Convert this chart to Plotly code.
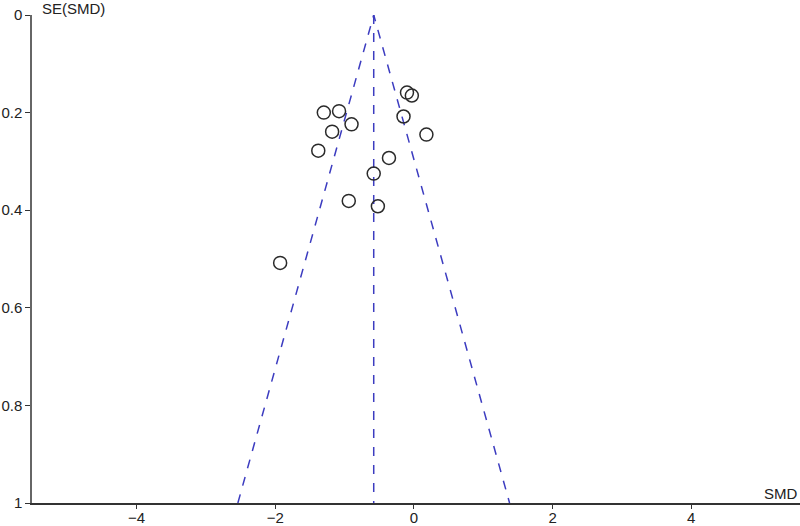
import plotly.graph_objects as go

smd = [-1.30, -1.08, -0.90, -1.18, -1.38, -0.10, -0.03, -0.15, 0.18, -0.36, -0.58, -0.94, -0.52, -1.93]
se = [0.200, 0.197, 0.224, 0.239, 0.278, 0.159, 0.165, 0.208, 0.245, 0.293, 0.325, 0.381, 0.392, 0.508]
pooled = -0.58
z = 1.96
se_max = 1.0

x_ticks = [-4, -2, 0, 2, 4]
y_ticks = [0, 0.2, 0.4, 0.6, 0.8, 1]
y_tick_text = ["0", "0.2", "0.4", "0.6", "0.8", "1"]

fig = go.Figure()
line_color = "#3c3cc0"
fig.add_trace(go.Scatter(
    x=[pooled - z * se_max, pooled, pooled + z * se_max], y=[se_max, 0, se_max],
    mode="lines", line=dict(color=line_color, width=1.5, dash="dash"), hoverinfo="skip"))
fig.add_trace(go.Scatter(
    x=[pooled, pooled], y=[0, se_max],
    mode="lines", line=dict(color=line_color, width=1.5, dash="dash"), hoverinfo="skip"))
fig.add_trace(go.Scatter(
    x=smd, y=se, mode="markers",
    marker=dict(symbol="circle-open", size=13, color="#2a2a2a", line=dict(width=1.5, color="#2a2a2a"))))

font = dict(family="Liberation Sans, Arial, sans-serif", size=15, color="#222222")
fig.update_layout(
    width=800, height=526, showlegend=False,
    plot_bgcolor="white", paper_bgcolor="white",
    margin=dict(l=32, r=0, t=15, b=23, autoexpand=False),
    font=font,
    xaxis=dict(range=[-5.51, 5.57], tickvals=x_ticks, ticks="outside", ticklen=4,
               tickcolor="#333333", showgrid=False, zeroline=False, automargin=False,
               showline=True, linecolor="#333333", linewidth=1.5, ticklabelstandoff=-4),
    yaxis=dict(range=[1, 0], tickvals=y_ticks, ticktext=y_tick_text, ticks="outside", ticklen=5,
               tickcolor="#333333", showgrid=False, zeroline=False, automargin=False,
               showline=True, linecolor="#666666", linewidth=1.5, ticklabelstandoff=0),
    annotations=[
        dict(text="SE(SMD)", xref="paper", yref="paper", x=0.01, y=1, xanchor="left", yanchor="bottom",
             showarrow=False, font=font, yshift=-4),
        dict(text="SMD", xref="paper", yref="paper", x=1.0, y=0, xanchor="right", yanchor="bottom",
             showarrow=False, font=font, yshift=-1),
    ],
)

fig.write_html("out.html", config={"displayModeBar": False},
               post_script="document.body.style.margin='0';document.body.style.padding='0';")
